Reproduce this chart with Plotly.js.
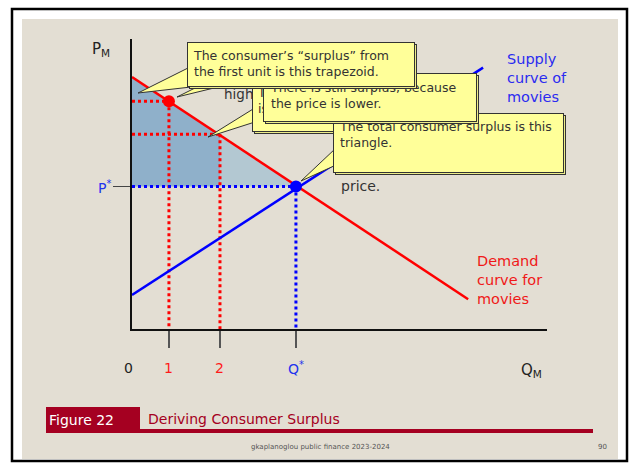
<!DOCTYPE html>
<html>
<head>
<meta charset="utf-8">
<script src="https://cdn.plot.ly/plotly-3.0.1.min.js"></script>
<style>html,body{margin:0;padding:0;background:#fff;}#chart{width:630px;height:463px;}</style>
</head>
<body>
<div id="chart"></div>
<script>
// ---- data (axis units: quantity 0-10, price 0-7) ----
const qMarks = [0.89, 2.12, 3.95];            // Q1, Q2, Q*
const qMarkLabels = ['1', '2', 'Q<sup>*</sup>'];
const qMarkColors = ['#ff1a1a', '#ff1a1a', '#2233ee'];
const pMarks = [5.50, 4.70, 3.44];            // price at Q1, price at Q2, P*
const demandQ = [0, 8.10];
const demandP = [6.08, 0.72];
const supplyQ = [0, 8.46];
const supplyP = [0.82, 6.31];

// ---- page geometry (pixels) ----
const L = 132, T = 39, W = 415, H = 290;
const px = x => (x - L) / W;
const py = y => (T + H - y) / H;
const FONT = 'DejaVu Sans, sans-serif';
const RED = '#ff0000', BLUE = '#0000ff';

const q1 = qMarks[0], q2 = qMarks[1], qs = qMarks[2];
const p1 = pMarks[0], p2 = pMarks[1], ps = pMarks[2];
const dInt = demandP[0];

function dotted(xs, ys, color) {
  return {type: 'scatter', mode: 'lines', x: xs, y: ys, hoverinfo: 'skip',
          line: {color: color, width: 3, dash: 'dot'}, showlegend: false};
}

const traces = [
  {type: 'scatter', mode: 'lines', x: [0, 0, q2, q2], y: [ps, dInt, p2, ps], fill: 'toself',
   fillcolor: '#8fb0ca', line: {width: 0}, hoverinfo: 'skip', showlegend: false},
  {type: 'scatter', mode: 'lines', x: [q2, q2, qs], y: [ps, p2, ps], fill: 'toself',
   fillcolor: '#b3c8d2', line: {width: 0}, hoverinfo: 'skip', showlegend: false},
  dotted([0, q1], [p1, p1], RED),
  dotted([q1, q1], [p1, 0], RED),
  dotted([0, q2], [p2, p2], RED),
  dotted([q2, q2], [p2, 0], RED),
  dotted([0, qs], [ps, ps], BLUE),
  dotted([qs, qs], [ps, 0], BLUE),
  {type: 'scatter', mode: 'lines', x: supplyQ, y: supplyP, line: {color: BLUE, width: 2.5}, hoverinfo: 'skip', showlegend: false},
  {type: 'scatter', mode: 'lines', x: demandQ, y: demandP, line: {color: RED, width: 2.5}, hoverinfo: 'skip', showlegend: false},
  {type: 'scatter', mode: 'markers', x: [q1], y: [p1], marker: {color: RED, size: 12}, hoverinfo: 'skip', showlegend: false},
  {type: 'scatter', mode: 'markers', x: [qs], y: [ps], marker: {color: BLUE, size: 12}, hoverinfo: 'skip', showlegend: false}
];

function rect(x0, y0, x1, y1, fill, line, layer) {
  return {type: 'rect', xref: 'paper', yref: 'paper', x0: px(x0), x1: px(x1), y0: py(y0), y1: py(y1),
          fillcolor: fill, line: line || {width: 0}, layer: layer || 'below'};
}
function tri(pts) {
  const d = 'M ' + pts.map(p => px(p[0]) + ' ' + py(p[1])).join(' L ') + ' Z';
  return {type: 'path', xref: 'paper', yref: 'paper', path: d, fillcolor: '#ffff99',
          line: {color: '#333', width: 1}, layer: 'above'};
}

const shapes = [
  rect(22, 19, 618, 459, '#e3ded3'),
  rect(12, 9, 627, 461, 'rgba(0,0,0,0)', {color: '#000', width: 2.5}),
  // footer
  rect(46, 407, 140, 433, '#a50021'),
  rect(140, 429, 593, 433, '#a50021'),
  // callout pointers
  tri([[138, 93], [192, 66], [200, 86]]),
  tri([[177, 97], [205, 83], [214, 88]]),
  tri([[208, 137], [266, 101], [258, 121]]),
  tri([[301, 181], [336, 148], [336, 165]])
];

function box(x0, y0, x1, y1, text, pad) {
  const list = [];
  // offset shadow
  list.push({xref: 'paper', yref: 'paper', x: px(x0 + 2), y: py(y0 + 2), xanchor: 'left', yanchor: 'top',
             width: (x1 - x0) - 2 * (1 + pad), height: (y1 - y0) - 2 * (1 + pad), text: ' ',
             bgcolor: '#eeee8a', bordercolor: '#333', borderwidth: 1, borderpad: pad, showarrow: false,
             font: {family: FONT, size: 12.5, color: '#333'}});
  list.push({xref: 'paper', yref: 'paper', x: px(x0), y: py(y0), xanchor: 'left', yanchor: 'top',
             width: (x1 - x0) - 2 * (1 + pad), height: (y1 - y0) - 2 * (1 + pad), text: text,
             align: 'left', valign: 'top',
             bgcolor: '#ffff99', bordercolor: '#333', borderwidth: 1, borderpad: pad, showarrow: false,
             font: {family: FONT, size: 12.5, color: '#333'}});
  return list;
}
function label(x, y, text, color, size, anchor, xref) {
  return {xref: xref || 'paper', yref: 'paper', x: xref === 'x' ? x : px(x), y: py(y), text: text,
          showarrow: false, xanchor: anchor || 'center', yanchor: 'middle',
          font: {family: FONT, size: size || 14, color: color || '#222'}};
}

let annotations = [
  label(222, 94, 'higher than the', '#333', 13.5, 'left'),
  label(339, 186, 'price.', '#333', 14, 'left')
];
annotations = annotations.concat(
  box(252, 80, 472, 132, 'The surplus from the second unit<br>is smaller.', 4),
  box(333, 113, 564, 173, 'The total consumer surplus is this<br>triangle.', 5),
  box(263, 73, 477, 122, 'There is still surplus, because<br>the price is lower.', 6),
  box(187, 42, 415, 87, 'The consumer’s “surplus” from<br>the first unit is this trapezoid.', 5)
);
annotations.push(
  label(101, 50, 'P<sub>M</sub>', '#222', 15),
  label(104, 187, 'P<sup>*</sup>', '#2233ee', 14),
  label(128, 368, '0', '#222', 14),
  label(531, 370, 'Q<sub>M</sub>', '#222', 15),
  {xref: 'paper', yref: 'paper', x: px(505), y: py(77.5), xanchor: 'left', yanchor: 'middle', align: 'left',
   text: 'Supply<br>curve of<br>movies', showarrow: false, font: {family: FONT, size: 14.5, color: '#2b2bf0'}},
  {xref: 'paper', yref: 'paper', x: px(475), y: py(279.5), xanchor: 'left', yanchor: 'middle', align: 'left',
   text: 'Demand<br>curve for<br>movies', showarrow: false, font: {family: FONT, size: 14.5, color: '#f01818'}},
  {xref: 'paper', yref: 'paper', x: px(47), y: py(420), xanchor: 'left', yanchor: 'middle',
   text: 'Figure 22', showarrow: false, font: {family: FONT, size: 14, color: '#ffffff'}},
  {xref: 'paper', yref: 'paper', x: px(146), y: py(419), xanchor: 'left', yanchor: 'middle',
   text: 'Deriving Consumer Surplus', showarrow: false, font: {family: FONT, size: 14, color: '#a50021'}},
  {xref: 'paper', yref: 'paper', x: px(320), y: py(447), xanchor: 'center', yanchor: 'middle',
   text: 'gkaplanoglou public finance 2023-2024', showarrow: false, font: {family: FONT, size: 7, color: '#555'}},
  {xref: 'paper', yref: 'paper', x: px(602), y: py(447), xanchor: 'center', yanchor: 'middle',
   text: '90', showarrow: false, font: {family: FONT, size: 7, color: '#555'}}
);
qMarks.forEach((q, i) => {
  annotations.push({xref: 'x', yref: 'paper', x: q, y: py(368), text: qMarkLabels[i], showarrow: false,
    xanchor: 'center', yanchor: 'middle', font: {family: FONT, size: 14, color: qMarkColors[i]}});
});

const layout = {
  width: 630, height: 463,
  margin: {l: L, r: 630 - L - W, t: T, b: 463 - T - H, pad: 0},
  paper_bgcolor: '#ffffff', plot_bgcolor: 'rgba(0,0,0,0)',
  showlegend: false,
  xaxis: {range: [0, 10], showgrid: false, zeroline: false, showline: true, linecolor: '#111', linewidth: 2,
          tickvals: qMarks, ticks: 'outside', ticklen: 17, tickwidth: 1.5, tickcolor: '#555',
          showticklabels: false, fixedrange: true},
  yaxis: {range: [0, 7], showgrid: false, zeroline: false, showline: true, linecolor: '#111', linewidth: 2,
          tickvals: [ps], ticks: 'outside', ticklen: 17, tickwidth: 1.5, tickcolor: '#444',
          showticklabels: false, fixedrange: true},
  shapes: shapes,
  annotations: annotations
};

Plotly.newPlot('chart', traces, layout, {staticPlot: true, displayModeBar: false});
</script>
</body>
</html>
